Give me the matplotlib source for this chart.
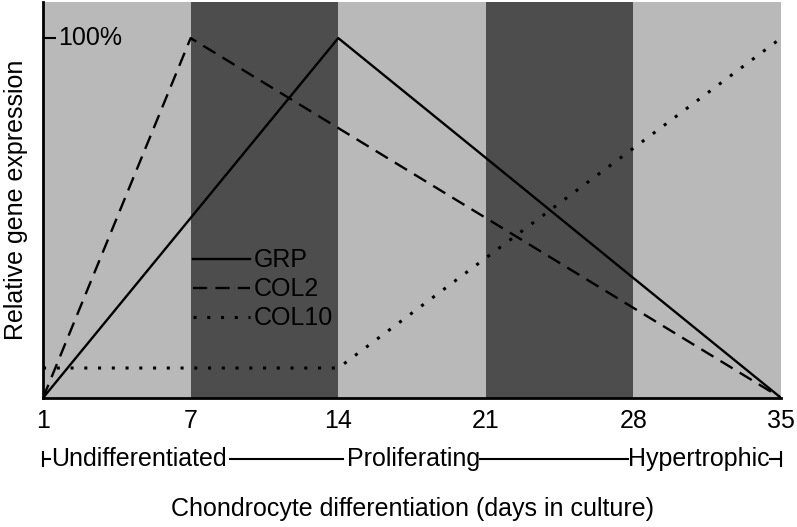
import matplotlib
matplotlib.use("Agg")
import matplotlib.pyplot as plt
import matplotlib.transforms as mtransforms

plt.rcParams['font.family'] = ['Liberation Sans', 'DejaVu Sans']

# x tick labels (days), equally spaced on the axis
days = ["1", "7", "14", "21", "28", "35"]
pos = list(range(len(days)))

# relative expression (%) at each day position
grp = [0, 50, 100, 66.7, 33.3, 0]
col2 = [0, 100, 75, 50, 25, 0]
col10 = [8.3, 8.3, 8.3, 38.9, 69.4, 100]

stages = ["Undifferentiated", "Proliferating", "Hypertrophic"]

light = "#b9b9b9"
dark = "#4d4d4d"
fs = 18

fig = plt.figure(figsize=(7.97, 5.27), dpi=100)
ax = fig.add_axes([0.054, 0.245, 0.926, 0.751])

# shaded day bands
for i in range(len(pos) - 1):
    ax.axvspan(pos[i], pos[i + 1], color=dark if i % 2 else light, lw=0, zorder=0)

ax.plot(pos, grp, color="black", lw=1.7, label="GRP")
ax.plot(pos, col2, color="black", lw=1.7, dashes=(6, 3.5), label="COL2")
ax.plot(pos, col10, color="black", lw=2.2, dashes=(1, 3.5), label="COL10")

ax.set_xlim(pos[0], pos[-1])
ax.set_ylim(0, 110)
for s in ["top", "right"]:
    ax.spines[s].set_visible(False)
for s in ["left", "bottom"]:
    ax.spines[s].set_linewidth(2)

ax.set_xticks(pos)
ax.set_xticklabels(days, fontsize=fs)
ax.tick_params(axis="x", length=0, pad=8)
ax.set_yticks([100])
ax.set_yticklabels([])
ax.tick_params(axis="y", direction="in", length=9, width=1.5)
ax.text(0.1, 100, "100%", fontsize=fs, va="center", ha="left")

ax.set_ylabel("Relative gene expression", fontsize=fs)
ax.yaxis.set_label_coords(-0.02, 0.5)
ax.set_xlabel("Chondrocyte differentiation (days in culture)", fontsize=fs)
ax.xaxis.set_label_coords(0.5, -0.25)

# stage row under the axis
tr = mtransforms.blended_transform_factory(ax.transData, ax.transAxes)
yrow = -0.154
kw = dict(transform=tr, clip_on=False, color="black", lw=1.5)
ax.plot([0, 0], [yrow - 0.017, yrow + 0.017], **kw)
ax.plot([0, 0.05], [yrow, yrow], **kw)
ax.plot([1.267, 2.03], [yrow, yrow], **kw)
ax.plot([2.96, 3.96], [yrow, yrow], **kw)
ax.plot([4.925, 5], [yrow, yrow], **kw)
ax.plot([5, 5], [yrow - 0.017, yrow + 0.017], **kw)
ax.text(0.055, yrow, stages[0], transform=tr, fontsize=fs, va="center", ha="left")
ax.text(2.06, yrow, stages[1], transform=tr, fontsize=fs, va="center", ha="left")
ax.text(3.963, yrow, stages[2], transform=tr, fontsize=fs, va="center", ha="left")

ax.legend(loc="upper left", bbox_to_anchor=(0.203, 0.378), frameon=False,
          fontsize=fs, handlelength=2.3, handletextpad=0.15, labelspacing=0.2,
          borderpad=0, borderaxespad=0)

fig.savefig("out.png", dpi=100)
